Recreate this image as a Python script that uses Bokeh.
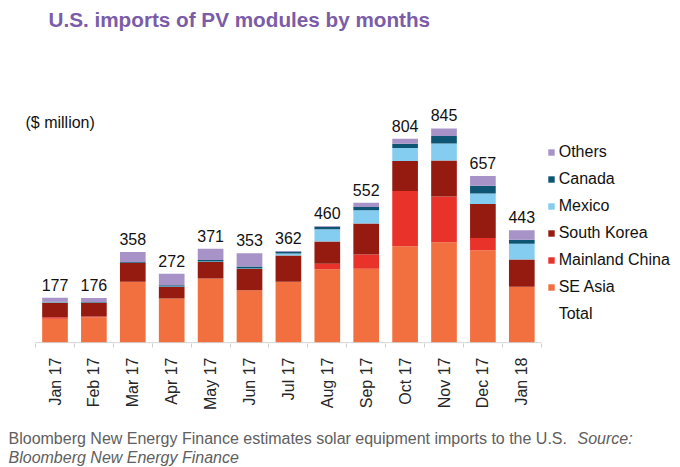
import math
from bokeh.plotting import figure
from bokeh.layouts import column
from bokeh.models import Range1d, FixedTicker, Label, Legend, LegendItem, ColumnDataSource
from bokeh.core.properties import value
from bokeh.embed import file_html
from bokeh.resources import INLINE

months = ["Jan 17", "Feb 17", "Mar 17", "Apr 17", "May 17", "Jun 17", "Jul 17",
          "Aug 17", "Sep 17", "Oct 17", "Nov 17", "Dec 17", "Jan 18"]
se_asia = [95, 100, 240, 174, 253, 207, 240, 290, 292, 380, 396, 365, 221]
mainland_china = [5, 3, 0, 0, 0, 0, 0, 21, 56, 218, 181, 48, 0]
south_korea = [58, 55, 75, 46, 65, 84, 104, 88, 122, 118, 141, 134, 107]
mexico = [2, 1, 0, 2, 2, 2, 8, 48, 52, 52, 67, 41, 62]
canada = [2, 2, 3, 5, 6, 8, 8, 10, 13, 16, 30, 31, 16]
others = [15, 15, 40, 45, 45, 52, 2, 3, 17, 20, 30, 38, 37]
totals = [177, 176, 358, 272, 371, 353, 362, 460, 552, 804, 845, 657, 443]

series_keys = ["se_asia", "mainland_china", "south_korea", "mexico", "canada", "others"]
series_names = ["SE Asia", "Mainland China", "South Korea", "Mexico", "Canada", "Others"]
series_colors = ["#f2703f", "#e8322a", "#951b10", "#84cdf0", "#0e5573", "#a893c9"]

FONT = "Liberation Sans"
W = 680
H_MAIN = 412
H_CAP = 55
FRAME_BOTTOM = 344          # px from top of canvas
PX_PER_CAT = 38.9
FIRST_CENTER = 54.5         # px
PX_PER_UNIT = 0.2544
Y_START = -3

xs = list(range(len(months)))
src = ColumnDataSource(dict(
    x=xs, se_asia=se_asia, mainland_china=mainland_china, south_korea=south_korea,
    mexico=mexico, canada=canada, others=others, total=totals,
    label=[str(t) for t in totals]))

x0 = -FIRST_CENTER / PX_PER_CAT
p = figure(width=W, height=H_MAIN, output_backend="svg", toolbar_location=None,
           x_range=Range1d(x0, x0 + W / PX_PER_CAT),
           y_range=Range1d(Y_START, Y_START + FRAME_BOTTOM / PX_PER_UNIT),
           min_border_left=0, min_border_right=0, min_border_top=0,
           min_border_bottom=H_MAIN - FRAME_BOTTOM)
p.outline_line_color = None
p.grid.visible = False
p.yaxis.visible = False
p.background_fill_color = "white"

rs = p.vbar_stack(series_keys, x="x", width=0.66, fill_color=series_colors,
                  line_color=None, source=src)
tot = p.vbar(x="x", top="total", width=0.66, source=src, fill_alpha=0, line_alpha=0)
p.text(x="x", y="total", text="label", source=src, text_align="center",
       text_baseline="alphabetic", y_offset=-13, text_font=value(FONT),
       text_font_size="16px", text_color="#111111")
# category axis baseline
p.segment(x0=[-0.5], x1=[len(months) - 0.5], y0=[0], y1=[0],
          line_color="#d0d0d0", line_width=1)

ax = p.xaxis[0]
ax.ticker = FixedTicker(ticks=xs, minor_ticks=[i - 0.5 for i in range(len(months) + 1)])
ax.major_label_overrides = {i: m for i, m in enumerate(months)}
ax.major_label_orientation = math.pi / 2
ax.major_label_text_font = FONT
ax.major_label_text_font_size = "16px"
ax.major_label_text_color = "#262626"
ax.major_label_standoff = 10
ax.major_tick_line_color = None
ax.major_tick_out = 0
ax.major_tick_in = 0
ax.minor_tick_line_color = "#d0d0d0"
ax.minor_tick_out = 4
ax.minor_tick_in = 0
ax.axis_line_color = None

items = []
for i in reversed(range(len(series_names))):
    items.append(LegendItem(label=series_names[i], renderers=[rs[i]]))
items.append(LegendItem(label="Total", renderers=[tot]))
legend = Legend(items=items, location=(546.7, FRAME_BOTTOM - 324.7), padding=0, margin=0,
                spacing=7, label_height=20, glyph_height=8, glyph_width=8,
                label_standoff=4, label_text_font=FONT, label_text_font_size="16px",
                label_text_color="#111111", background_fill_alpha=0,
                border_line_color=None)
p.add_layout(legend, "center")


def lab(fig, text, x, y, size, color, style="normal", baseline="middle"):
    fig.add_layout(Label(x=x, y=y, x_units="screen", y_units="screen", text=text,
                         text_font=FONT, text_font_size=size, text_color=color,
                         text_font_style=style, text_baseline=baseline))


lab(p, "U.S. imports of PV modules by months", 48, FRAME_BOTTOM - 20, "20.7px", "#7a5ca8", "bold")
lab(p, "($ million)", 25, FRAME_BOTTOM - 123, "16px", "#111111")

cap = figure(width=W, height=H_CAP, output_backend="svg", toolbar_location=None,
             x_range=Range1d(0, W), y_range=Range1d(0, H_CAP),
             min_border=0)
cap.outline_line_color = None
cap.grid.visible = False
cap.axis.visible = False
lab(cap, "Bloomberg New Energy Finance estimates solar equipment imports to the U.S.",
    8, 29, "16px", "#606060", baseline="alphabetic")
lab(cap, "Source:", 577, 29, "16px", "#606060", "italic", "alphabetic")
lab(cap, "Bloomberg New Energy Finance", 8, 10.5, "16px", "#606060", "italic", "alphabetic")

layout = column(p, cap, spacing=0)
open("out.html", "w").write(file_html(layout, INLINE))
